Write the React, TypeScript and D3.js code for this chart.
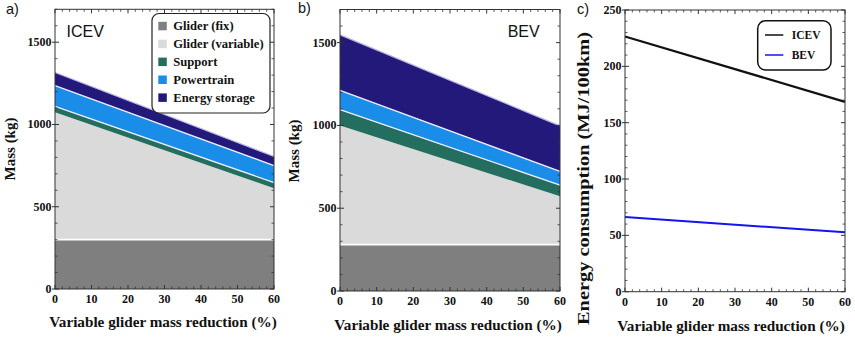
import React from "react";
import * as d3 from "d3";

// ---------- data ----------
const reduction = [0, 60]; // Variable glider mass reduction (%)
const seriesKeys = ["Glider (fix)", "Glider (variable)", "Support", "Powertrain", "Energy storage"];

const icevGliderFix = [300, 300];
const icevGliderVar = [775, 312];
const icevSupport = [35, 35];
const icevPowertrain = [126, 103];
const icevEnergy = [80, 55];

const bevGliderFix = [280, 280];
const bevGliderVar = [720, 292];
const bevSupport = [95, 68];
const bevPowertrain = [117, 82];
const bevEnergy = [335, 275];

const icevConsumption = [226.5, 168.5];
const bevConsumption = [66.3, 52.7];

const massTicks = [0, 500, 1000, 1500];
const consTicks = [0, 50, 100, 150, 200, 250];
const xTicks = [0, 10, 20, 30, 40, 50, 60];

const colors = ["#7f7f7f", "#dadada", "#236e5e", "#1a8de8", "#23197a"];

const serif = "'Liberation Serif', 'Times New Roman', serif";
const sans = "'Liberation Sans', Arial, sans-serif";

type Frame = { x0: number; x1: number; y0: number; y1: number };

function Axes({ f, x, y, yTicks, yMinorStep, yMax }: { f: Frame; x: d3.ScaleLinear<number, number>; y: d3.ScaleLinear<number, number>; yTicks: number[]; yMinorStep: number; yMax: number }) {
  const xMinor = d3.range(0, 60.001, 2).filter((v) => v % 10 !== 0);
  const yMinor = d3.range(0, yMax + 0.001, yMinorStep).filter((v) => !yTicks.includes(v));
  const tickCol = "#333";
  return (
    <g>
      <rect x={f.x0} y={f.y0} width={f.x1 - f.x0} height={f.y1 - f.y0} fill="none" stroke="#333" strokeWidth={1} />
      {xTicks.map((v) => (
        <g key={"xt" + v}>
          <line x1={x(v)} x2={x(v)} y1={f.y1} y2={f.y1 - 4} stroke={tickCol} />
          <line x1={x(v)} x2={x(v)} y1={f.y0} y2={f.y0 + 4} stroke={tickCol} />
          <text x={x(v)} y={f.y1 + 14} textAnchor="middle" fontFamily={serif} fontWeight="bold" fontSize={12} fill="#111">{v}</text>
        </g>
      ))}
      {xMinor.map((v) => (
        <g key={"xm" + v}>
          <line x1={x(v)} x2={x(v)} y1={f.y1} y2={f.y1 - 2.5} stroke={tickCol} strokeWidth={0.8} />
          <line x1={x(v)} x2={x(v)} y1={f.y0} y2={f.y0 + 2.5} stroke={tickCol} strokeWidth={0.8} />
        </g>
      ))}
      {yTicks.map((v) => (
        <g key={"yt" + v}>
          <line x1={f.x0 - 3} x2={f.x0 + 4} y1={y(v)} y2={y(v)} stroke={tickCol} />
          <line x1={f.x1} x2={f.x1 - 4} y1={y(v)} y2={y(v)} stroke={tickCol} />
          <text x={f.x0 - 3.5} y={y(v) + 4} textAnchor="end" fontFamily={serif} fontWeight="bold" fontSize={12} fill="#111">{v}</text>
        </g>
      ))}
      {yMinor.map((v) => (
        <g key={"ym" + v}>
          <line x1={f.x0} x2={f.x0 + 2.5} y1={y(v)} y2={y(v)} stroke={tickCol} strokeWidth={0.8} />
          <line x1={f.x1} x2={f.x1 - 2.5} y1={y(v)} y2={y(v)} stroke={tickCol} strokeWidth={0.8} />
        </g>
      ))}
    </g>
  );
}

function MassPanel({ f, data, label, labelX }: { f: Frame; data: number[][]; label: string; labelX: number }) {
  const x = d3.scaleLinear().domain([0, 60]).range([f.x0, f.x1]);
  const y = d3.scaleLinear().domain([0, 1700]).range([f.y1, f.y0]);
  const table = reduction.map((r, i) => {
    const row: any = { r };
    seriesKeys.forEach((k, j) => (row[k] = data[j][i]));
    return row;
  });
  const stacked = d3.stack<any>().keys(seriesKeys)(table);
  const area = d3
    .area<any>()
    .x((d) => x(d.data.r))
    .y0((d) => y(d[0]))
    .y1((d) => y(d[1]));
  const topLine = d3
    .line<any>()
    .x((d) => x(d.data.r))
    .y((d) => y(d[1]));
  return (
    <g>
      {stacked.map((s, i) => (
        <path key={s.key} d={area(s) || ""} fill={colors[i]} />
      ))}
      <path d={topLine(stacked[0]) || ""} stroke="#fff" strokeWidth={1.8} fill="none" />
      <path d={topLine(stacked[2]) || ""} stroke="#eef" strokeWidth={1.3} fill="none" />
      <path d={topLine(stacked[3]) || ""} stroke="#eef" strokeWidth={1.3} fill="none" />
      <path d={topLine(stacked[4]) || ""} stroke="#b9b3e6" strokeWidth={1.2} fill="none" />
      <Axes f={f} x={x} y={y} yTicks={massTicks} yMinorStep={100} yMax={1700} />
      <text x={labelX} y={36.7} fontFamily={sans} fontSize={16} fill="#111">{label}</text>
    </g>
  );
}

export default function App() {
  const fa: Frame = { x0: 55, x1: 274, y0: 9.3, y1: 289 };
  const fb: Frame = { x0: 340, x1: 560, y0: 9.5, y1: 291 };
  const fc: Frame = { x0: 625, x1: 845, y0: 10, y1: 291.7 };

  const icevData = [icevGliderFix, icevGliderVar, icevSupport, icevPowertrain, icevEnergy];
  const bevData = [bevGliderFix, bevGliderVar, bevSupport, bevPowertrain, bevEnergy];

  const xc = d3.scaleLinear().domain([0, 60]).range([fc.x0, fc.x1]);
  const yc = d3.scaleLinear().domain([0, 250]).range([fc.y1, fc.y0]);
  const line = d3
    .line<number>()
    .x((_, i) => xc(reduction[i]))
    .y((d) => yc(d));

  const legendRowsA = seriesKeys.map((k, i) => ({ k, c: colors[i], y: 26 + i * 17.9 }));

  return (
    <svg width={855} height={337} style={{ position: "absolute", left: 0, top: 0, background: "#fff" }}>
      <rect x={0} y={0} width={855} height={337} fill="#fff" />
      {/* panel a */}
      <MassPanel f={fa} data={icevData} label="ICEV" labelX={66.5} />
      <rect x={152} y={13.5} width={118} height={99.5} rx={7} fill="#fff" stroke="#222" strokeWidth={1.2} />
      {legendRowsA.map((r) => (
        <g key={r.k}>
          <rect x={158.3} y={r.y - 4.2} width={8.5} height={8.5} fill={r.c} />
          <text x={173.3} y={r.y + 4.2} fontFamily={serif} fontWeight="bold" fontSize={12.6} fill="#111">{r.k}</text>
        </g>
      ))}
      {/* panel b */}
      <MassPanel f={fb} data={bevData} label="BEV" labelX={507.7} />

      {/* panel c */}
      <path d={line(icevConsumption) || ""} stroke="#111" strokeWidth={2.2} fill="none" />
      <path d={line(bevConsumption) || ""} stroke="#1414ee" strokeWidth={2} fill="none" />
      <Axes f={fc} x={xc} y={yc} yTicks={consTicks} yMinorStep={10} yMax={250} />
      <rect x={757.7} y={20.7} width={73.3} height={49.3} rx={8} fill="#fff" stroke="#111" strokeWidth={1.5} />
      <line x1={765} x2={783.3} y1={35} y2={35} stroke="#111" strokeWidth={1.5} />
      <text x={791.7} y={39} fontFamily={serif} fontWeight="bold" fontSize={11.5} fill="#111">ICEV</text>
      <line x1={765} x2={783.3} y1={55} y2={55} stroke="#1414ee" strokeWidth={1.5} />
      <text x={791.7} y={59} fontFamily={serif} fontWeight="bold" fontSize={11.5} fill="#111">BEV</text>

      {/* axis labels */}
      <text transform="translate(15,149) rotate(-90)" textAnchor="middle" fontFamily={serif} fontWeight="bold" fontSize={15} fill="#111">Mass (kg)</text>
      <text transform="translate(299,151) rotate(-90)" textAnchor="middle" fontFamily={serif} fontWeight="bold" fontSize={15} fill="#111">Mass (kg)</text>
      <text transform="translate(589,178.5) rotate(-90)" textAnchor="middle" fontFamily={serif} fontWeight="bold" fontSize={16} textLength={293} lengthAdjust="spacingAndGlyphs" fill="#111">Energy  consumption  (MJ/100km)</text>

      <text x={163} y={327} textAnchor="middle" fontFamily={serif} fontWeight="bold" fontSize={15.2} fill="#111">Variable glider mass reduction (%)</text>
      <text x={448} y={330} textAnchor="middle" fontFamily={serif} fontWeight="bold" fontSize={15.2} fill="#111">Variable glider mass reduction (%)</text>
      <text x={731} y={331} textAnchor="middle" fontFamily={serif} fontWeight="bold" fontSize={15.2} fill="#111">Variable glider mass reduction (%)</text>

      {/* panel letters */}
      <text x={6} y={14} fontFamily={sans} fontSize={14.5} fill="#111">a)</text>
      <text x={298} y={13} fontFamily={sans} fontSize={14.5} fill="#111">b)</text>
      <text x={577} y={14} fontFamily={sans} fontSize={14.5} fill="#111">c)</text>
    </svg>
  );
}
